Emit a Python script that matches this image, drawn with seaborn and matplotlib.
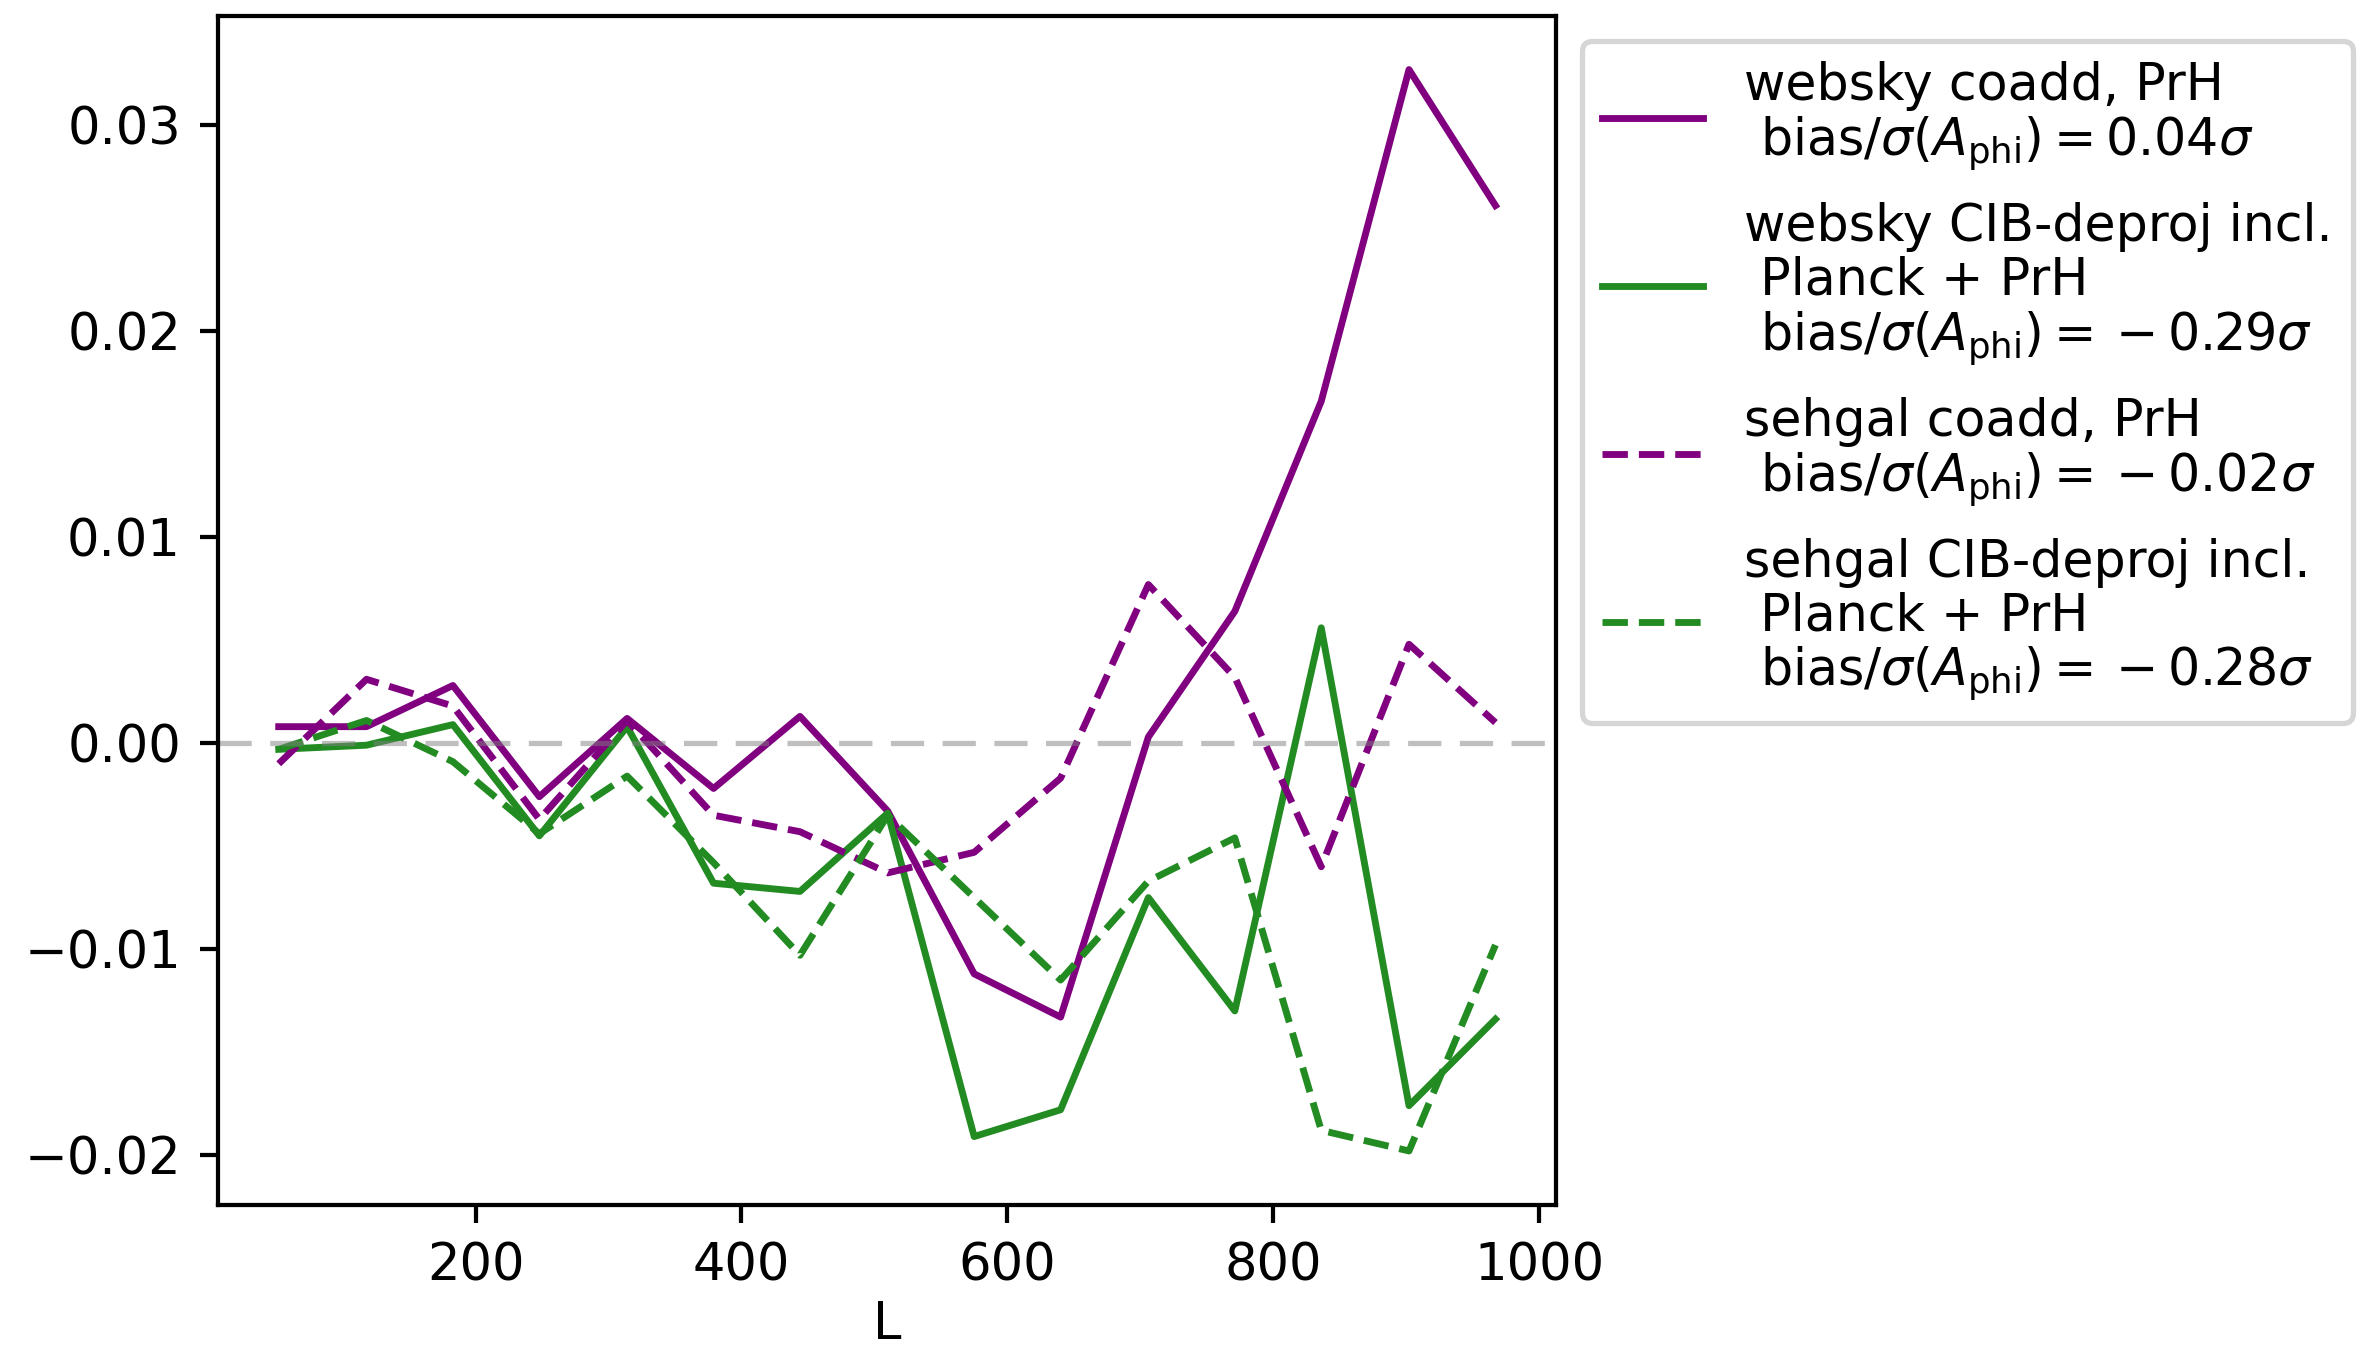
import numpy as np
import pandas as pd
import seaborn as sns
import matplotlib.pyplot as plt

L = [52, 118, 183, 248, 314, 379, 444, 510, 575, 640, 706, 771, 836, 902, 967]

websky_coadd = [0.0008, 0.0008, 0.0028, -0.0026, 0.0012, -0.0022, 0.0013, -0.0033,
                -0.0112, -0.0133, 0.0003, 0.0064, 0.0166, 0.0327, 0.0261]
websky_deproj = [-0.0003, -0.0001, 0.0009, -0.0045, 0.0008, -0.0068, -0.0072, -0.0034,
                 -0.0191, -0.0178, -0.0075, -0.0130, 0.0056, -0.0176, -0.0134]
sehgal_coadd = [-0.0010, 0.0031, 0.0018, -0.0037, 0.0011, -0.0035, -0.0043, -0.0063,
                -0.0053, -0.0017, 0.0077, 0.0032, -0.0060, 0.0048, 0.0010]
sehgal_deproj = [-0.0003, 0.0011, -0.0009, -0.0044, -0.0016, -0.0058, -0.0103, -0.0035,
                 -0.0075, -0.0115, -0.0067, -0.0046, -0.0188, -0.0198, -0.0098]

labels = [
    "websky coadd, PrH\n bias/$\\sigma(A_{\\rm phi}) = 0.04\\sigma$",
    "websky CIB-deproj incl.\n Planck + PrH\n bias/$\\sigma(A_{\\rm phi}) = {} - 0.29\\sigma$",
    "sehgal coadd, PrH\n bias/$\\sigma(A_{\\rm phi}) = {} - 0.02\\sigma$",
    "sehgal CIB-deproj incl.\n Planck + PrH\n bias/$\\sigma(A_{\\rm phi}) = {} - 0.28\\sigma$",
]
series = [websky_coadd, websky_deproj, sehgal_coadd, sehgal_deproj]
colors = ['purple', 'forestgreen', 'purple', 'forestgreen']
styles = ['-', '-', '--', '--']

plt.rcParams['font.size'] = 9.7

fig = plt.figure(figsize=(2376 / 380, 1352 / 380), dpi=380)
ax = fig.add_axes([0.0917, 0.1087, 0.655 - 0.0917, 0.9885 - 0.1087])

for vals, lab, col, ls in zip(series, labels, colors, styles):
    df = pd.DataFrame({'L': L, 'bias': vals})
    sns.lineplot(data=df, x='L', y='bias', ax=ax, color=col, linestyle=ls,
                 linewidth=1.3, label=lab)

ax.axhline(0, color='gray', alpha=0.5, linewidth=1.0, dashes=(6.3, 3.5))

ax.set_xlabel('L', labelpad=1.5)
ax.set_ylabel('')
leg = ax.legend(bbox_to_anchor=(1.0, 1.0), loc='upper left', fontsize=9.6,
                labelspacing=0.6)
for t in leg.get_texts():
    t.set_linespacing(1.08)

fig.savefig('out.png', dpi=380)
